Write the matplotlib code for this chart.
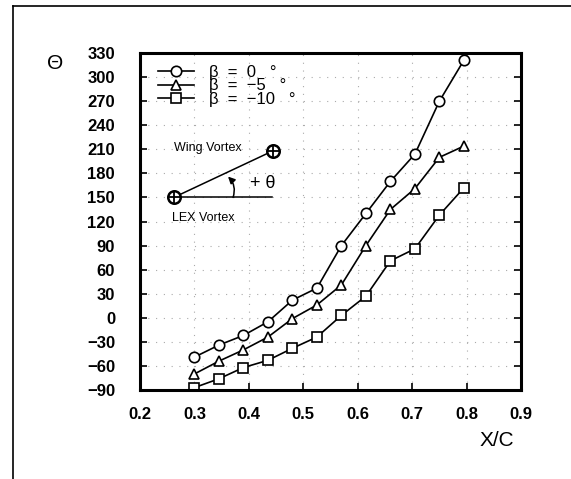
import matplotlib
matplotlib.use("Agg")
import matplotlib.pyplot as plt
from matplotlib.lines import Line2D

plt.rcParams['font.family'] = ['Liberation Sans', 'DejaVu Sans']

x_c = [0.30, 0.345, 0.39, 0.435, 0.48, 0.525, 0.57, 0.615, 0.66, 0.705, 0.75, 0.795]
theta_b0 = [-49, -34, -22, -5, 22, 37, 90, 130, 170, 204, 270, 321]
theta_b5 = [-70, -54, -40, -24, -1, 16, 41, 90, 135, 161, 200, 214]
theta_b10 = [-87, -76, -62, -53, -38, -24, 3, 27, 71, 86, 128, 162]
labels = ['β  =  0   °', 'β  =  −5   °', 'β  =  −10   °']
xticks = [0.2, 0.3, 0.4, 0.5, 0.6, 0.7, 0.8, 0.9]
yticks = [-90, -60, -30, 0, 30, 60, 90, 120, 150, 180, 210, 240, 270, 300, 330]

fig = plt.figure(figsize=(5.71, 4.79), dpi=100)
ax = fig.add_axes([0.2452, 0.1858, 0.6673, 0.7035])

mk = dict(color='black', lw=1.2, markerfacecolor='white', markeredgecolor='black',
          markeredgewidth=1.2, markersize=7.5)
ax.plot(x_c, theta_b0, marker='o', label=labels[0], **mk)
ax.plot(x_c, theta_b5, marker='^', label=labels[1], **mk)
ax.plot(x_c, theta_b10, marker='s', label=labels[2], **mk)

ax.set_xlim(0.2, 0.9)
ax.set_ylim(-90, 330)
ax.set_xticks(xticks)
ax.set_yticks(yticks)
ax.set_xticklabels([f'{v:.1f}' for v in xticks], fontsize=12, fontweight='bold')
ax.set_yticklabels([str(v).replace('-', '−') for v in yticks], fontsize=12, fontweight='bold')
ax.tick_params(axis='both', direction='in', length=5, width=1.2, right=True, top=False)
ax.tick_params(axis='y', pad=18)
ax.tick_params(axis='x', pad=12)
for s in ax.spines.values():
    s.set_linewidth(2.2)
ax.grid(True, color='#aaaaaa', linestyle=(0, (1, 6)), linewidth=0.8)

leg = ax.legend(loc='upper left', bbox_to_anchor=(0.02, 0.995), frameon=False,
                fontsize=12, handlelength=2.2, handletextpad=0.9, labelspacing=-0.08,
                borderaxespad=0.2)

# inset schematic
ax.plot([0.262, 0.4425], [150, 150], color='black', lw=1.1)
ax.plot([0.262, 0.444], [150, 208], color='black', lw=1.1)
for (px, py) in [(0.262, 150), (0.444, 208)]:
    ax.plot([px], [py], marker='o', markersize=9, markerfacecolor='white',
            markeredgecolor='black', markeredgewidth=1.8, clip_on=False)
    ax.plot([px], [py], marker='+', markersize=8, color='black', markeredgewidth=1.3, clip_on=False)
ax.annotate('', xy=(0.3617, 176), xytext=(0.371, 150),
            arrowprops=dict(arrowstyle='-|>', color='black', lw=1.1,
                            connectionstyle='arc3,rad=0.3', mutation_scale=10,
                            shrinkA=0, shrinkB=0))
ax.text(0.426, 168, '+ θ', fontsize=13, ha='center', va='center')
ax.text(0.325, 212, 'Wing Vortex', fontsize=9, ha='center', va='center')
ax.text(0.316, 124, 'LEX Vortex', fontsize=9, ha='center', va='center')

fig.text(0.870, 0.0814, 'X/C', fontsize=15, ha='center', va='center')
fig.text(0.0963, 0.868, 'Θ', fontsize=15, ha='center', va='center')

# outer frame (left and top edges)
fig.add_artist(Line2D([0.0228, 0.0228], [0.0, 0.9875], transform=fig.transFigure,
                      color='black', lw=1.2))
fig.add_artist(Line2D([0.0228, 1.0], [0.9875, 0.9875], transform=fig.transFigure,
                      color='black', lw=1.2))

fig.savefig('out.png', dpi=100)
